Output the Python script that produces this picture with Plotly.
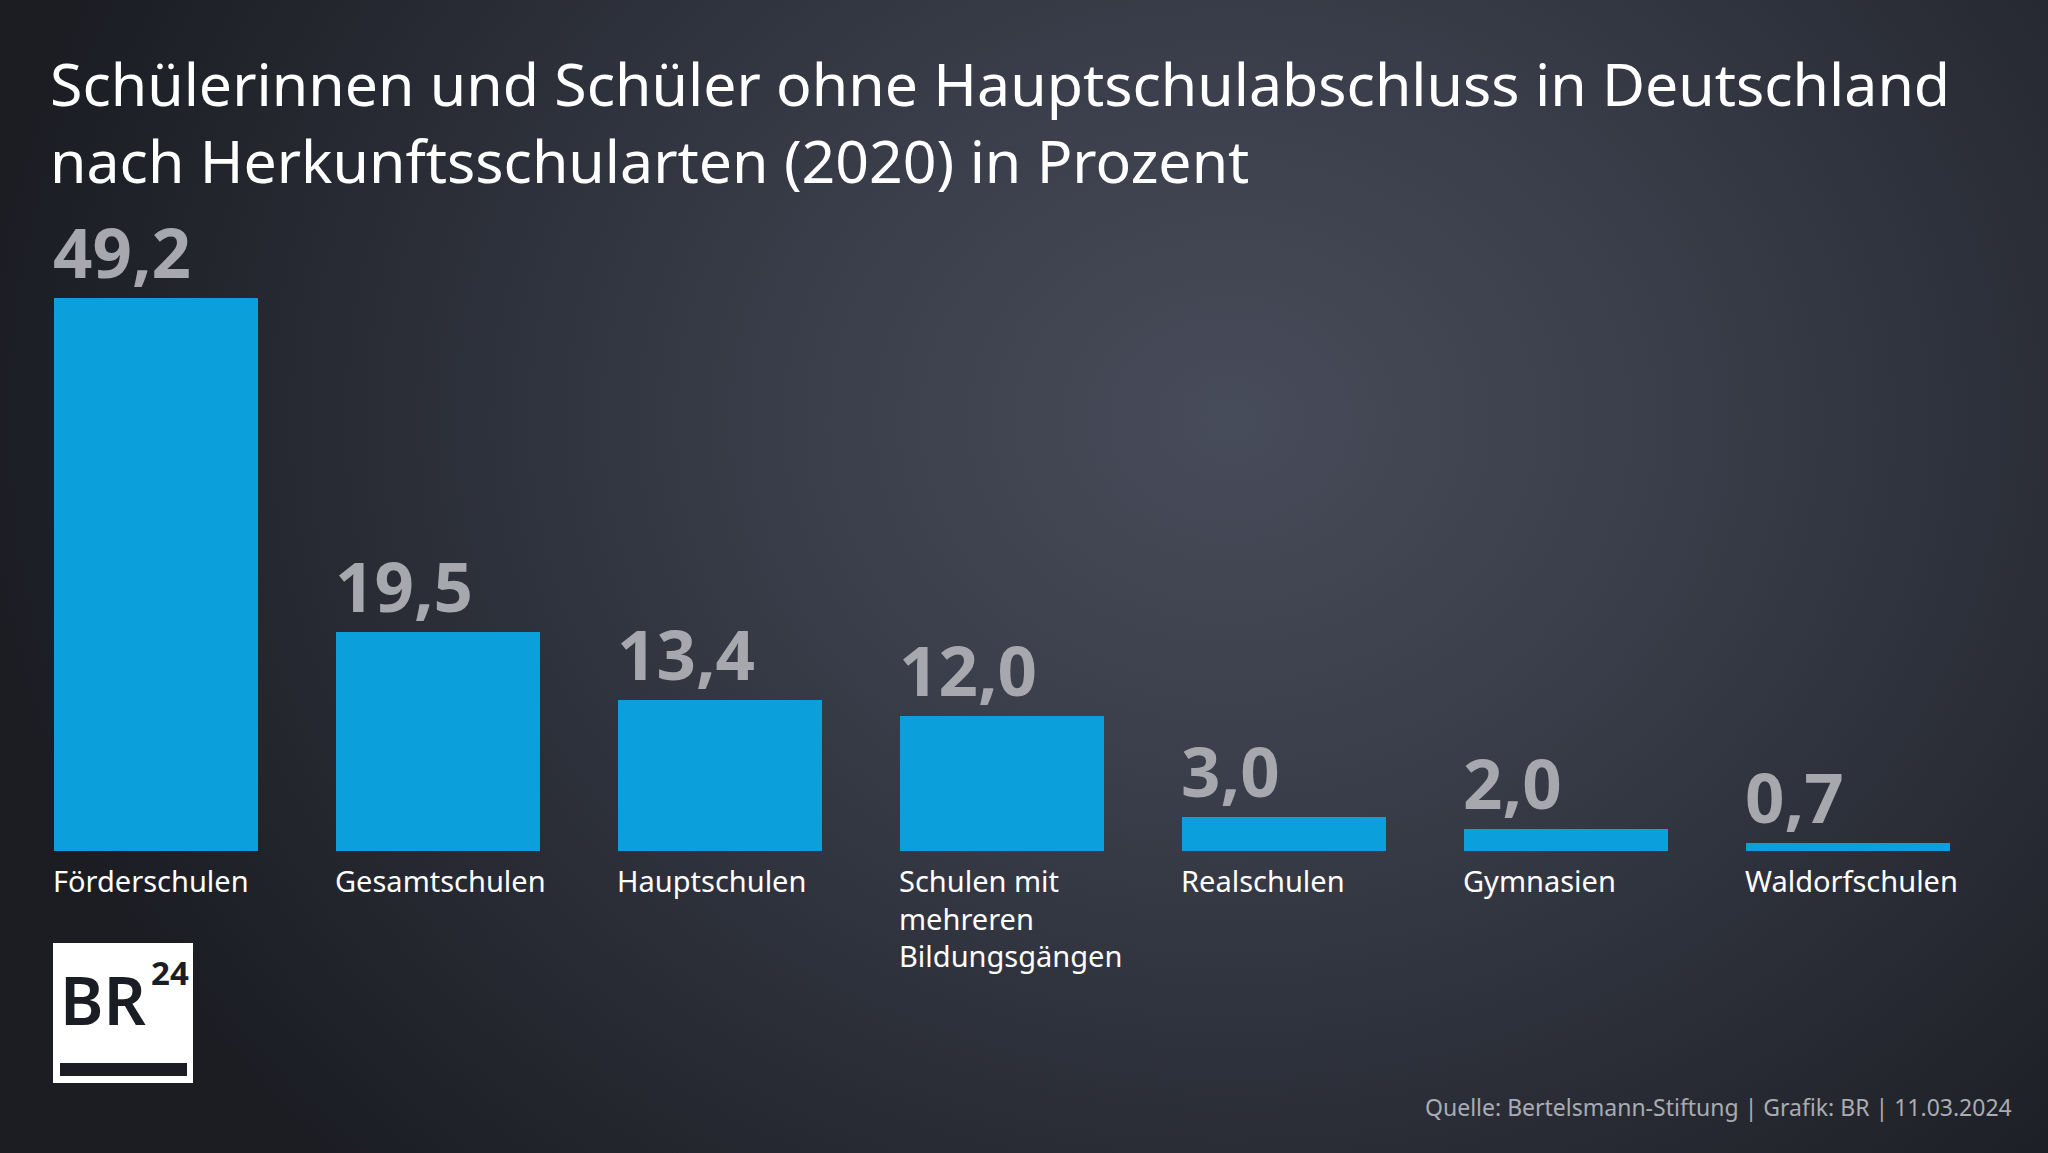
import base64
import plotly.graph_objects as go

W, H = 2048, 1153

categories = ["Förderschulen", "Gesamtschulen", "Hauptschulen",
              "Schulen mit<br>mehreren<br>Bildungsgängen",
              "Realschulen", "Gymnasien", "Waldorfschulen"]
values = [49.2, 19.5, 13.4, 12.0, 3.0, 2.0, 0.7]
value_labels = ["49,2", "19,5", "13,4", "12,0", "3,0", "2,0", "0,7"]

title_text = ("Schülerinnen und Schüler ohne Hauptschulabschluss in Deutschland<br>"
              "nach Herkunftsschularten (2020) in Prozent")
source_text = "Quelle: Bertelsmann-Stiftung | Grafik: BR | 11.03.2024"

BAR_COLOR = "#0b9fdb"
LABEL_GREY = "#a6a8ad"
LOGO_DARK = "#1b1d24"
FONT = "Noto Sans"

def px(x):
    return x / W

def py(y):
    return 1 - y / H

# background radial gradient as svg image
svg = f"""<svg xmlns="http://www.w3.org/2000/svg" width="{W}" height="{H}" viewBox="0 0 {W} {H}">
<defs><radialGradient id="g" gradientUnits="userSpaceOnUse" cx="1230" cy="420" r="1250"
gradientTransform="translate(1230 420) scale(1 0.85) translate(-1230 -420)">
<stop offset="0" stop-color="#474c5a"/>
<stop offset="0.35" stop-color="#3a3e4a"/>
<stop offset="0.7" stop-color="#292c35"/>
<stop offset="1" stop-color="#1b1d23"/>
</radialGradient></defs>
<rect width="{W}" height="{H}" fill="url(#g)"/></svg>"""
svg_uri = "data:image/svg+xml;base64," + base64.b64encode(svg.encode()).decode()

xs = list(range(len(values)))
bar_w = 204 / 282

fig = go.Figure()
fig.add_trace(go.Bar(x=xs, y=values, width=bar_w, marker=dict(color=BAR_COLOR, line=dict(width=0)),
                     hoverinfo="skip"))

annotations = []
for i, (v, lab, cat) in enumerate(zip(values, value_labels, categories)):
    annotations.append(dict(x=i - bar_w / 2, y=v, xref="x", yref="y", text=lab,
                            xanchor="left", yanchor="bottom", showarrow=False, yshift=-2,
                            xshift=-3, align="left",
                            font=dict(family=FONT, size=69, color=LABEL_GREY, weight=700)))
    annotations.append(dict(x=i - bar_w / 2, y=0, xref="x", yref="y", text=cat,
                            xanchor="left", yanchor="top", showarrow=False, yshift=-8,
                            xshift=-3, align="left",
                            font=dict(family=FONT, size=29, color="#ffffff")))

# title
annotations.append(dict(x=px(48), y=py(41), xref="paper", yref="paper", text=title_text,
                        xanchor="left", yanchor="top", showarrow=False, align="left",
                        font=dict(family=FONT, size=59, color="#ffffff")))

annotations.append(dict(x=px(2014), y=py(1107), xref="paper", yref="paper", text=source_text,
                        xanchor="right", yanchor="middle", showarrow=False,
                        font=dict(family=FONT, size=23, color="#a9acb2")))

# BR24 logo
annotations.append(dict(x=px(58), y=py(952), xref="paper", yref="paper", text="BR",
                        xanchor="left", yanchor="top", showarrow=False,
                        font=dict(family=FONT, size=66, color=LOGO_DARK, weight=600)))
annotations.append(dict(x=px(149), y=py(948), xref="paper", yref="paper", text="24",
                        xanchor="left", yanchor="top", showarrow=False,
                        font=dict(family=FONT, size=33, color=LOGO_DARK, weight=700)))

shapes = [
    dict(type="rect", xref="paper", yref="paper", x0=px(53), x1=px(193), y0=py(1083), y1=py(943),
         fillcolor="#ffffff", line=dict(width=0), layer="below"),
    dict(type="rect", xref="paper", yref="paper", x0=px(60), x1=px(187), y0=py(1076), y1=py(1063),
         fillcolor=LOGO_DARK, line=dict(width=0), layer="below"),
]

x_left = -156 / 282
x_right = 6 + (W - 1848) / 282
base_frac = (H - 851) / H
ymax = 851 / (553 / 49.2)

fig.update_layout(
    width=W, height=H,
    margin=dict(l=0, r=0, t=0, b=0),
    paper_bgcolor="#25272f", plot_bgcolor="rgba(0,0,0,0)",
    showlegend=False,
    bargap=0,
    xaxis=dict(range=[x_left, x_right], domain=[0, 1], visible=False, fixedrange=True),
    yaxis=dict(range=[0, ymax], domain=[base_frac, 1], visible=False, fixedrange=True),
    annotations=annotations,
    shapes=shapes,
    images=[dict(source=svg_uri, xref="paper", yref="paper", x=0, y=1, sizex=1, sizey=1,
                 xanchor="left", yanchor="top", sizing="stretch", layer="below")],
)

fig.write_html("out.html", config={"displayModeBar": False},
               post_script="document.body.style.margin='0';document.body.style.padding='0';"
                           "document.body.style.overflow='hidden';")
